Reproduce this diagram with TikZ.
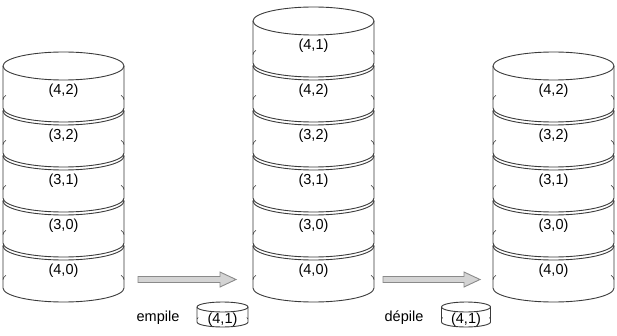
\documentclass[tikz,border=0pt]{standalone}
\usepackage{fontspec}
\setmainfont{Liberation Sans}
\definecolor{edgegray}{HTML}{3A3A3A}
\definecolor{arrowfill}{HTML}{D4D4D4}
\definecolor{arrowedge}{HTML}{8A8A8A}
\tikzset{
  diskbody/.style={fill=white,draw=edgegray,line width=0.9pt,line join=round},
  diskline/.style={draw=edgegray,line width=0.9pt},
  disklabel/.style={inner sep=0pt,font=\fontsize{14.5}{17}\selectfont,text=black},
  plaintext/.style={inner sep=0pt,font=\fontsize{14.5}{17}\selectfont,text=black},
  blockarrow/.style={fill=arrowfill,draw=arrowedge,line width=0.9pt,line join=miter}
}
% #1 cx, #2 cy (top ellipse centre), #3 rx, #4 ry, #5 height, #6 label offset, #7 label, #8 name
\newcommand\drawdisk[8]{%
  \path[diskbody] (#1-#3,#2) -- (#1-#3,#2-#5)
    arc[start angle=180,end angle=360,x radius=#3,y radius=#4]
    -- (#1+#3,#2)
    arc[start angle=0,end angle=180,x radius=#3,y radius=#4] -- cycle;
  \draw[diskline] (#1+#3,#2) arc[start angle=0,end angle=-180,x radius=#3,y radius=#4];
  \draw[diskline,line width=0.6pt] (#1-#3,#2-#5+0.2*#5) arc[start angle=180,end angle=162,x radius=#3,y radius=#4];
  \draw[diskline,line width=0.6pt] (#1+#3,#2-#5+0.2*#5) arc[start angle=0,end angle=18,x radius=#3,y radius=#4];
  \node[disklabel] (#8) at (#1,#2-#6) {#7};
}
\begin{document}
\begin{tikzpicture}[x=1pt,y=1pt]
\useasboundingbox (0,0) rectangle (617,335);
% left stack
\drawdisk{63.5}{89}{60.5}{14}{42}{25}{(4,0)}{l40}
\drawdisk{63.5}{134}{60.5}{14}{42}{25}{(3,0)}{l30}
\drawdisk{63.5}{179}{60.5}{14}{42}{25}{(3,1)}{l31}
\drawdisk{63.5}{224}{60.5}{14}{42}{25}{(3,2)}{l32}
\drawdisk{63.5}{269}{60.5}{14}{42}{25}{(4,2)}{l42}
% middle stack
\drawdisk{313.5}{89}{60.5}{14}{42}{25}{(4,0)}{m40}
\drawdisk{313.5}{134}{60.5}{14}{42}{25}{(3,0)}{m30}
\drawdisk{313.5}{179}{60.5}{14}{42}{25}{(3,1)}{m31}
\drawdisk{313.5}{224}{60.5}{14}{42}{25}{(3,2)}{m32}
\drawdisk{313.5}{269}{60.5}{14}{42}{25}{(4,2)}{m42}
\drawdisk{313.5}{314}{60.5}{14}{42}{25}{(4,1)}{m41}
% right stack
\drawdisk{553.5}{89}{60.5}{14}{42}{25}{(4,0)}{r40}
\drawdisk{553.5}{134}{60.5}{14}{42}{25}{(3,0)}{r30}
\drawdisk{553.5}{179}{60.5}{14}{42}{25}{(3,1)}{r31}
\drawdisk{553.5}{224}{60.5}{14}{42}{25}{(3,2)}{r32}
\drawdisk{553.5}{269}{60.5}{14}{42}{25}{(4,2)}{r42}
% block arrows
\draw[blockarrow] (138,52.5) -- (220,52.5) -- (220,48) -- (236,55.5) -- (220,63) -- (220,58.5) -- (138,58.5) -- cycle;
\draw[blockarrow] (383,52.5) -- (464,52.5) -- (464,48) -- (480,55.5) -- (464,63) -- (464,58.5) -- (383,58.5) -- cycle;
% labels and small disks
\node[plaintext] (empile) at (158,17) {empile};
\drawdisk{222.5}{28}{25.5}{5}{15}{13}{(4,1)}{push41}
\node[plaintext] (depile) at (404,17) {dépile};
\drawdisk{466}{28}{24.5}{5}{15}{13}{(4,1)}{pop41}
\end{tikzpicture}
\end{document}
